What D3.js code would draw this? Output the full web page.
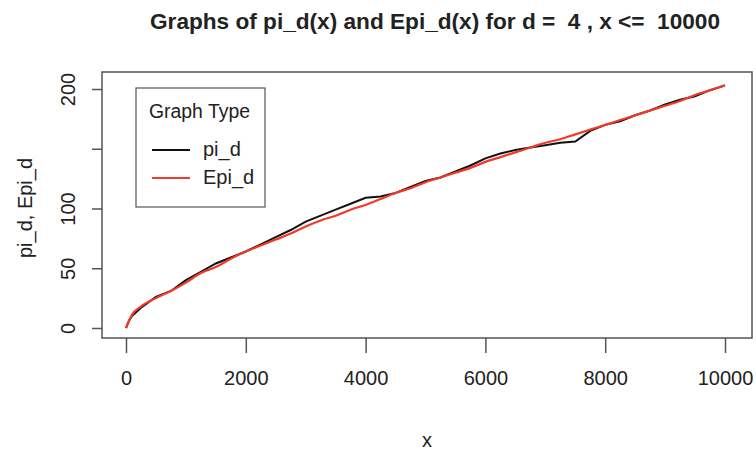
<!DOCTYPE html>
<html>
<head>
<meta charset="utf-8">
<script src="https://cdn.jsdelivr.net/npm/d3@7"></script>
<style>
body { margin: 0; background: #fff; }
text { font-family: "Liberation Sans", Arial, sans-serif; fill: #222; white-space: pre; }
</style>
</head>
<body>
<svg id="chart" width="756" height="454"></svg>
<script>
const xs = [0,50,100,250,500,750,1000,1250,1500,1750,2000,2250,2500,2750,3000,3250,3500,3750,4000,4250,4500,4750,5000,5250,5500,5750,6000,6250,6500,6750,7000,7250,7500,7750,8000,8250,8500,8750,9000,9250,9500,9750,10000]
const piD = [0,6,10,17,26,31,40,47,54,59,64,70,76,82,89,94,99,104,109,110,113,118,123,126,131,136,142,146,149,151,153,155,156,165,170,173,178,182,187,191,194,199,203]
const epiD = [0,6,11,18,25,31,38,46,51,58,64,69,74,79,85,90,94,99,103,108,113,117,122,126,130,134,139,143,147,151,155,158,162,166,170,174,178,182,186,190,195,199,203]
const xTicks = [0,2000,4000,6000,8000,10000]
const yTicks = [0,50,100,150,200]
const yLabels = ['0','50','100','','200']

const svg = d3.select('#chart')
const box = {left: 102, right: 752, top: 72, bottom: 338}

const x = d3.scaleLinear().domain([0, 10000]).range([126, 725])
const y = d3.scaleLinear().domain([0, 200]).range([328, 89])

// plot frame
svg.append('rect')
  .attr('x', box.left).attr('y', box.top)
  .attr('width', box.right - box.left).attr('height', box.bottom - box.top)
  .attr('fill', 'none').attr('stroke', '#555').attr('stroke-width', 1.5)

// x axis
const gx = svg.append('g').attr('transform', `translate(0,${box.bottom})`)
  .call(d3.axisBottom(x).tickValues(xTicks).tickSize(15).tickPadding(18).tickFormat(d3.format('d')))
gx.select('.domain').remove()
gx.selectAll('line').attr('stroke', '#555').attr('stroke-width', 1.5)
gx.selectAll('text').attr('font-size', 20).style('fill', '#222')

// y axis
const gy = svg.append('g').attr('transform', `translate(${box.left},0)`)
  .call(d3.axisLeft(y).tickValues(yTicks).tickSize(10).tickFormat((d, i) => yLabels[i]))
gy.select('.domain').remove()
gy.selectAll('line').attr('stroke', '#555').attr('stroke-width', 1.5)
gy.selectAll('text')
  .attr('font-size', 20).style('fill', '#222')
  .attr('text-anchor', 'middle')
  .attr('x', 0).attr('dy', 0)
  .attr('transform', 'translate(-27,0) rotate(-90)')

// series
const line = d3.line().x((d, i) => x(xs[i])).y(d => y(d))
svg.append('path').datum(piD)
  .attr('d', line).attr('fill', 'none').attr('stroke', '#111').attr('stroke-width', 2)
svg.append('path').datum(epiD)
  .attr('d', line.curve(d3.curveMonotoneX)).attr('fill', 'none').attr('stroke', '#f03a2a').attr('stroke-width', 2.2)

// titles
svg.append('text').attr('x', 150).attr('y', 29)
  .attr('font-size', 22).attr('font-weight', 'bold')
  .attr('textLength', 570).attr('lengthAdjust', 'spacingAndGlyphs')
  .text('Graphs of pi_d(x) and Epi_d(x) for d =  4 , x <=  10000')
svg.append('text').attr('x', 427).attr('y', 447).attr('text-anchor', 'middle')
  .attr('font-size', 20).text('x')
svg.append('text').attr('transform', 'translate(32,208) rotate(-90)').attr('text-anchor', 'middle')
  .attr('font-size', 20).text('pi_d, Epi_d')

// legend
const legend = svg.append('g').attr('transform', 'translate(136,88)')
legend.append('rect').attr('width', 129).attr('height', 119)
  .attr('fill', '#fff').attr('stroke', '#555').attr('stroke-width', 1.2)
legend.append('text').attr('x', 13).attr('y', 30).attr('font-size', 20)
  .attr('textLength', 101).attr('lengthAdjust', 'spacingAndGlyphs').text('Graph Type')
const items = [{name: 'pi_d', color: '#111'}, {name: 'Epi_d', color: '#f03a2a'}]
items.forEach((it, i) => {
  const yy = 62 + i * 28
  legend.append('line').attr('x1', 16).attr('x2', 54).attr('y1', yy).attr('y2', yy)
    .attr('stroke', it.color).attr('stroke-width', 2)
  legend.append('text').attr('x', 67).attr('y', yy + 6).attr('font-size', 20).text(it.name)
})
</script>
</body>
</html>
